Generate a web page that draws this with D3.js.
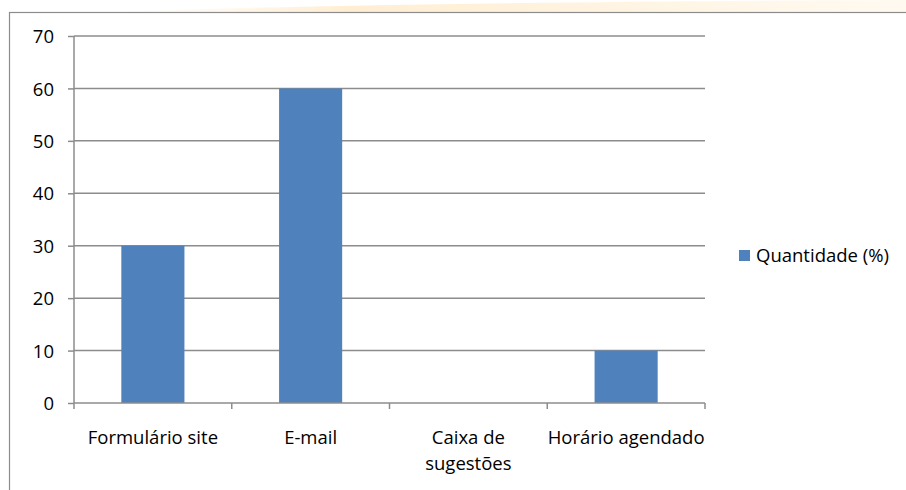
<!DOCTYPE html>
<html><head><meta charset="utf-8">
<script src="https://cdn.jsdelivr.net/npm/d3@7"></script>
<style>body{margin:0;background:#fff}svg{display:block;font-family:"Open Sans","Noto Sans",sans-serif}</style>
</head><body>
<svg id="c" width="906" height="490"></svg>
<script>
const categories = [["Formulário site"], ["E-mail"], ["Caixa de", "sugestões"], ["Horário agendado"]];
const values = [30, 60, 0, 10];
const yTicks = [0, 10, 20, 30, 40, 50, 60, 70];
const seriesName = "Quantidade (%)";
const FS = 18.5;

const svg = d3.select("#c");
const defs = svg.append("defs");
const g1 = defs.append("linearGradient").attr("id","topg").attr("x1",0).attr("x2",1);
g1.append("stop").attr("offset","0").attr("stop-color","#fff3dc").attr("stop-opacity",0);
g1.append("stop").attr("offset","0.3").attr("stop-color","#ffeccc").attr("stop-opacity",0.9);
g1.append("stop").attr("offset","1").attr("stop-color","#fff6e6").attr("stop-opacity",0.6);
svg.append("path").attr("d","M110,12 Q400,2 906,0 L906,12 Z").attr("fill","url(#topg)");

svg.append("rect").attr("x",9.5).attr("y",12.5).attr("width",1000).attr("height",600)
  .attr("fill","none").attr("stroke","#8c8c8c").attr("stroke-width",1.2);

const x = d3.scaleBand().domain(d3.range(categories.length)).range([74,705]).paddingInner(0.6).paddingOuter(0.3);
const xb = d3.scaleBand().domain(d3.range(categories.length)).range([74,705]);
const y = d3.scaleLinear().domain([0,70]).range([403,36]);

svg.append("g").selectAll("line").data(yTicks.filter(d=>d>0)).join("line")
  .attr("x1",74).attr("x2",705).attr("y1",d=>y(d)).attr("y2",d=>y(d))
  .attr("stroke","#8c8c8c").attr("stroke-width",1.5);

svg.append("g").selectAll("rect").data(values).join("rect")
  .attr("x",(d,i)=>x(i)).attr("width",x.bandwidth())
  .attr("y",d=>y(d)).attr("height",d=>y(0)-y(d)).attr("fill","#4f81bd");

const ya = d3.axisLeft(y).tickValues(yTicks).tickSize(6).tickPadding(14);
const yg = svg.append("g").attr("transform","translate(74,0)").call(ya);
yg.attr("font-family",null).attr("font-size",null);
yg.select(".domain").attr("stroke","#8c8c8c").attr("stroke-width",1.5).attr("d","M0,36V403");
yg.selectAll(".tick line").attr("stroke","#8c8c8c").attr("stroke-width",1.5);
yg.selectAll(".tick text").attr("font-size",FS).attr("fill","#000").attr("dy","0.36em");

const xg = svg.append("g").attr("transform","translate(0,403)");
xg.append("line").attr("x1",74).attr("x2",705).attr("stroke","#8c8c8c").attr("stroke-width",1.5);
const edges = d3.range(categories.length+1).map(i=> i<categories.length ? xb(i) : xb(i-1)+xb.bandwidth());
xg.selectAll(".t").data(edges).join("line").attr("class","t")
  .attr("x1",d=>d).attr("x2",d=>d).attr("y1",0).attr("y2",6)
  .attr("stroke","#8c8c8c").attr("stroke-width",1.5);
const lab = svg.append("g").selectAll("text").data(categories).join("text")
  .attr("x",(d,i)=>xb(i)+xb.bandwidth()/2).attr("y",444)
  .attr("text-anchor","middle").attr("font-size",FS).attr("fill","#000");
lab.selectAll("tspan").data(d=>d).join("tspan")
  .attr("x",function(){return this.parentNode.getAttribute("x");})
  .attr("dy",(d,i)=>i===0?0:26).text(d=>d);

svg.append("rect").attr("x",739).attr("y",250).attr("width",11).attr("height",11).attr("fill","#4f81bd");
svg.append("text").attr("x",756).attr("y",262).attr("font-size",FS).attr("fill","#000").text(seriesName);
</script>
</body></html>
